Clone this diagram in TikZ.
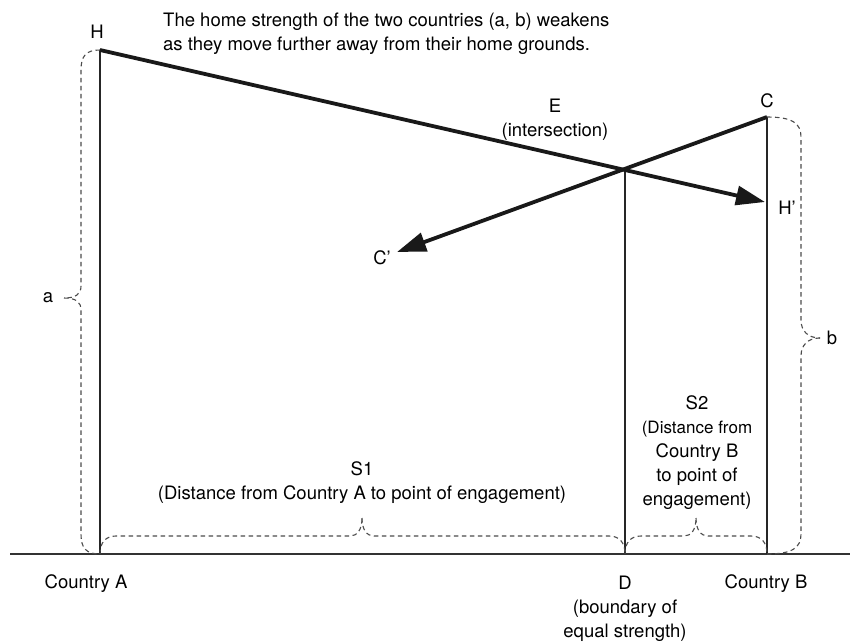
\documentclass[tikz,border=0pt]{standalone}
\usepackage{fontspec}
\setmainfont{TeX Gyre Heros}
\usetikzlibrary{arrows.meta}
\begin{document}
\begin{tikzpicture}[x=1pt,y=-1pt,
  thickline/.style={line width=3.8pt,color=black!90},
  thinline/.style={line width=1.3pt,color=black!85},
  baseline/.style={line width=1.8pt,color=black!80},
  bracestyle/.style={dash pattern=on 4.5pt off 3.5pt,line width=1.1pt,color=black!70},
  lab/.style={font=\fontsize{18.5}{24}\selectfont,inner sep=0pt,align=center},
  bigarrow/.style={-{Triangle[length=29pt,width=19pt]}}]
\useasboundingbox (0,0) rectangle (850,643);
% key points
\coordinate (H) at (100,50);
\coordinate (C) at (767,117);
\coordinate (E) at (625,170);
\coordinate (D) at (625,554);
\coordinate (A) at (100,554);
\coordinate (B) at (767,554);
\coordinate (Hp) at (765,202);
\coordinate (Cp) at (397,252);
\coordinate (L) at (10,554);
\coordinate (R) at (850,554);
% baseline and verticals
\draw[baseline] (L) -- (R);
\draw[thinline] (H) -- (A);
\draw[thinline] (C) -- (B);
\draw[thinline] (E) -- (D);
% arrows
\draw[thickline,bigarrow] (H) -- (Hp);
\draw[thickline,bigarrow] (C) -- (Cp);
% braces
\draw[bracestyle] (H) .. controls (86,50) and (81,56) .. (81,70) -- (81,286) .. controls (81,294) and (76,298) .. (64,298);
\draw[bracestyle] (64,298) .. controls (76,298) and (81,302) .. (81,310) -- (81,534) .. controls (81,548) and (86,554) .. (A);
\draw[bracestyle] (C) .. controls (792,117) and (801,123) .. (801,137) -- (801,320) .. controls (801,331) and (808,338) .. (820,338);
\draw[bracestyle] (820,338) .. controls (808,338) and (801,345) .. (801,356) -- (801,534) .. controls (801,548) and (792,554) .. (B);
\draw[bracestyle] (A) .. controls (100,542) and (106,536) .. (116,536) -- (350,536) .. controls (357,536) and (362,530) .. (362,518);
\draw[bracestyle] (362,518) .. controls (362,530) and (367,536) .. (374,536) -- (609,536) .. controls (619,536) and (625,542) .. (D);
\draw[bracestyle] (D) .. controls (625,542) and (631,536) .. (641,536) -- (684,536) .. controls (691,536) and (696,530) .. (696,518);
\draw[bracestyle] (696,518) .. controls (696,530) and (701,536) .. (708,536) -- (751,536) .. controls (761,536) and (767,542) .. (B);
% labels
\node[lab,anchor=north west,align=left] (top) at (163,13) {The home strength of the two countries (a, b) weakens\\as they move further away from their home grounds.};
\node[lab] (Hl) at (97,32) {H};
\node[lab] (Cl) at (767,101) {C};
\node[lab,anchor=north] (El) at (555,99) {E\\(intersection)};
\node[lab] (Hpl) at (787,208) {H’};
\node[lab] (Cpl) at (382,258) {C’};
\node[lab] (al) at (48,298) {a};
\node[lab] (bl) at (832,338) {b};
\node[lab,anchor=north] (S2) at (697,395) {S2\\\fontsize{17}{24}\selectfont(Distance from\\Country B\\to point of\\engagement)};
\node[lab,anchor=north] (S1) at (362,461) {S1\\(Distance from Country A to point of engagement)};
\node[lab] (CA) at (86,584) {Country A};
\node[lab,anchor=north] (Dl) at (625,576) {D\\(boundary of\\equal strength)};
\node[lab] (CB) at (766,584) {Country B};
\end{tikzpicture}
\end{document}
